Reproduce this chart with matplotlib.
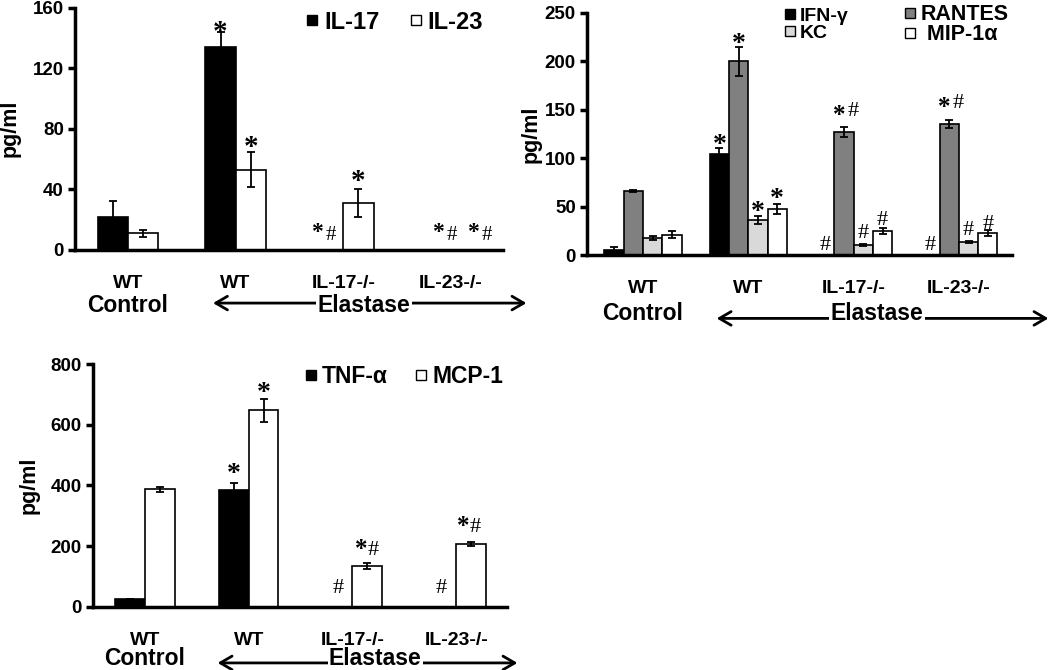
import numpy as np
import matplotlib.pyplot as plt
from matplotlib.lines import Line2D
from matplotlib.transforms import blended_transform_factory

plt.rcParams['font.family'] = ['Liberation Sans', 'DejaVu Sans']
plt.rcParams['font.weight'] = 'bold'

groups = ['WT', 'WT', 'IL-17-/-', 'IL-23-/-']

# panel A
il17 = [22, 134, 0, 0]
il17_err = [10, 10, 0, 0]
il23 = [11, 53, 31, 0]
il23_err = [2.4, 11.5, 9.3, 0]

# panel B
ifng = [5, 104, 0, 0]
ifng_err = [3, 7, 0, 0]
rantes = [66.5, 200, 127, 135]
rantes_err = [1, 15, 5, 4]
kc = [17.5, 36, 10.3, 13]
kc_err = [2, 4, 1, 1]
mip1a = [21, 47.5, 25, 22.4]
mip1a_err = [3.5, 5, 3, 3]

# panel C
tnfa = [24, 385, 0, 0]
tnfa_err = [0, 24, 0, 0]
mcp1 = [387, 649, 135, 207]
mcp1_err = [8, 38, 9, 8]

# significance marks: (text, group, series index, value at glyph centre, nudge px)
marks_a = [('*', 1, 0, 148, 0), ('*', 1, 1, 72, 0), ('*', 2, 1, 50, 0),
           ('*#', 2, 0, 16, -4), ('*#', 3, 0, 16, 9), ('*#', 3, 1, 16, 14)]
marks_b = [('*', 1, 0, 121, 0), ('*', 1, 1, 225, 0), ('*', 1, 2, 52, 0), ('*', 1, 3, 64.5, 0),
           ('*#', 2, 1, 150, 2), ('*#', 3, 1, 159, 2),
           ('#', 2, 0, 13.4, 0), ('#', 3, 0, 13.4, 0), ('#', 2, 2, 25, 0), ('#', 2, 3, 39, 0),
           ('#', 3, 2, 28.5, 0), ('#', 3, 3, 35, 0)]
marks_c = [('*', 1, 0, 462, 0), ('*', 1, 1, 729, 0), ('*#', 2, 1, 209, 0), ('*#', 3, 1, 283, -2),
           ('#', 2, 0, 69, 0), ('#', 3, 0, 69, 0)]

x = np.arange(len(groups))
fig = plt.figure(figsize=(10.5, 6.7), dpi=100)
PX = 0.72  # points per pixel


def style(ax, ymax, step, xlim):
    ax.set_ylim(0, ymax)
    ax.set_xlim(*xlim)
    ax.set_yticks(np.arange(0, ymax + 1, step))
    for s in ['top', 'right']:
        ax.spines[s].set_visible(False)
    for s in ['left', 'bottom']:
        ax.spines[s].set_linewidth(2.5)
    ax.tick_params(axis='y', width=2.5, length=5, labelsize=13.5, pad=3)
    ax.set_xticks([])
    for lb in ax.get_yticklabels():
        lb.set_fontweight('bold')
    ax.set_ylabel('pg/ml', fontsize=15.5, fontweight='bold', va='bottom')


def bars(ax, series, errs, colors, w):
    n = len(series)
    offs = (np.arange(n) - (n - 1) / 2) * w
    for vals, err, c, o in zip(series, errs, colors, offs):
        ax.bar(x + o, vals, w, color=c, edgecolor='black', linewidth=1.2,
               yerr=err, capsize=3, error_kw={'elinewidth': 1.3, 'capthick': 1.3})
    return offs


def glyph(ax, t, xc, yc, dx, dy, size):
    # place glyph so its ink centre sits at (xc, yc) + (dx, dy) pixels
    if t == '*':
        wt, c = 'bold', 0.5
    else:
        wt, c = 'normal', 0.34
    ax.annotate(t, (xc, yc), xytext=(dx * PX, dy * PX - c * size),
                textcoords='offset points', ha='center', va='baseline',
                fontsize=size, fontweight=wt, family='Liberation Serif',
                annotation_clip=False)


def put_marks(ax, marks, offs, star, star2, hsize, pair):
    for t, g, s, y, nx in marks:
        xc = x[g] + offs[s]
        if t == '*':
            glyph(ax, '*', xc, y, nx, 0, star)
        elif t == '#':
            glyph(ax, '#', xc, y, nx, 0, hsize)
        else:
            glyph(ax, '*', xc, y, nx + pair[0], 0, star2)
            glyph(ax, '#', xc, y, nx + pair[1], pair[2], hsize)


def xlabels(ax, y_wt, y_ctrl, y_arrow, arrow_x, elastase_x):
    tr = blended_transform_factory(ax.transData, ax.transAxes)
    for xi, g in zip(x, groups):
        ax.text(xi, y_wt, g, transform=tr, ha='center', va='baseline',
                fontsize=14, fontweight='bold')
    ax.text(x[0], y_ctrl, 'Control', transform=tr, ha='center', va='baseline',
            fontsize=16.5, fontweight='bold')
    ax.annotate('', xy=(arrow_x[0], y_arrow), xytext=(arrow_x[1], y_arrow),
                xycoords=tr, textcoords=tr, annotation_clip=False,
                arrowprops=dict(arrowstyle='<->,head_length=0.6,head_width=0.35',
                                color='black', lw=2, mutation_scale=14,
                                shrinkA=0, shrinkB=0))
    ax.text(elastase_x, y_ctrl, 'Elastase', transform=tr, ha='center', va='baseline',
            fontsize=16.5, fontweight='bold',
            bbox=dict(facecolor='white', edgecolor='none', pad=1))


def sq(c):
    return Line2D([], [], marker='s', linestyle='none', markersize=7.5,
                  markerfacecolor=c, markeredgecolor='black', markeredgewidth=1)


def legend(ax, colors, names, anchor, size, colsp, ncol, tpad=0.25):
    return ax.legend([sq(c) for c in colors], names, ncol=ncol, frameon=False,
                     loc='center left', bbox_to_anchor=anchor,
                     prop={'size': size, 'weight': 'bold'}, handlelength=0.5,
                     handletextpad=tpad, columnspacing=colsp, borderpad=0,
                     borderaxespad=0, labelspacing=-0.05)


# ---- panel A ----
ax1 = fig.add_axes([0.0714, 0.6269, 0.4076, 0.3619])
offs = bars(ax1, [il17, il23], [il17_err, il23_err], ['black', 'white'], 0.28)
style(ax1, 160, 40, (-0.492, 3.482))
put_marks(ax1, marks_a, offs, 21, 17, 15, (-7, 7, -7))
ax1.yaxis.set_label_coords(-0.128, 0.5)
xlabels(ax1, -0.157, -0.256, -0.219, (0.79, 3.70), 2.19)
legend(ax1, ['black', 'white'], ['IL-17', 'IL-23'], (0.541, 0.94), 17, 1.3, 2)

# ---- panel B ----
ax2 = fig.add_axes([0.559, 0.6194, 0.4048, 0.3612])
offs = bars(ax2, [ifng, rantes, kc, mip1a], [ifng_err, rantes_err, kc_err, mip1a_err],
            ['black', '#808080', '#d9d9d9', 'white'], 0.183)
style(ax2, 250, 50, (-0.532, 3.504))
put_marks(ax2, marks_b, offs, 20, 18, 16, (-7, 7, 1))
ax2.yaxis.set_label_coords(-0.106, 0.5)
xlabels(ax2, -0.157, -0.269, -0.262, (0.70, 3.85), 2.22)
lg = legend(ax2, ['black', '#d9d9d9'], ['IFN-\u03b3', 'KC'], (0.466, 0.952), 14, 1, 1)
ax2.add_artist(lg)
lg2 = legend(ax2, ['#808080', 'white'], ['RANTES', ' MIP-1\u03b1'], (0.748, 0.952), 15.5, 1, 1)

# ---- panel C ----
ax3 = fig.add_axes([0.0886, 0.0945, 0.3943, 0.3618])
offs = bars(ax3, [tnfa, mcp1], [tnfa_err, mcp1_err], ['black', 'white'], 0.285)
style(ax3, 800, 200, (-0.501, 3.49))
put_marks(ax3, marks_c, offs, 20, 18, 16, (-6, 6, -4))
ax3.yaxis.set_label_coords(-0.128, 0.5)
xlabels(ax3, -0.158, -0.241, -0.232, (0.70, 3.59), 2.22)
legend(ax3, ['black', 'white'], ['TNF-\u03b1', 'MCP-1'], (0.512, 0.948), 16.5, 1.2, 2)

fig.savefig('out.png', dpi=100)
